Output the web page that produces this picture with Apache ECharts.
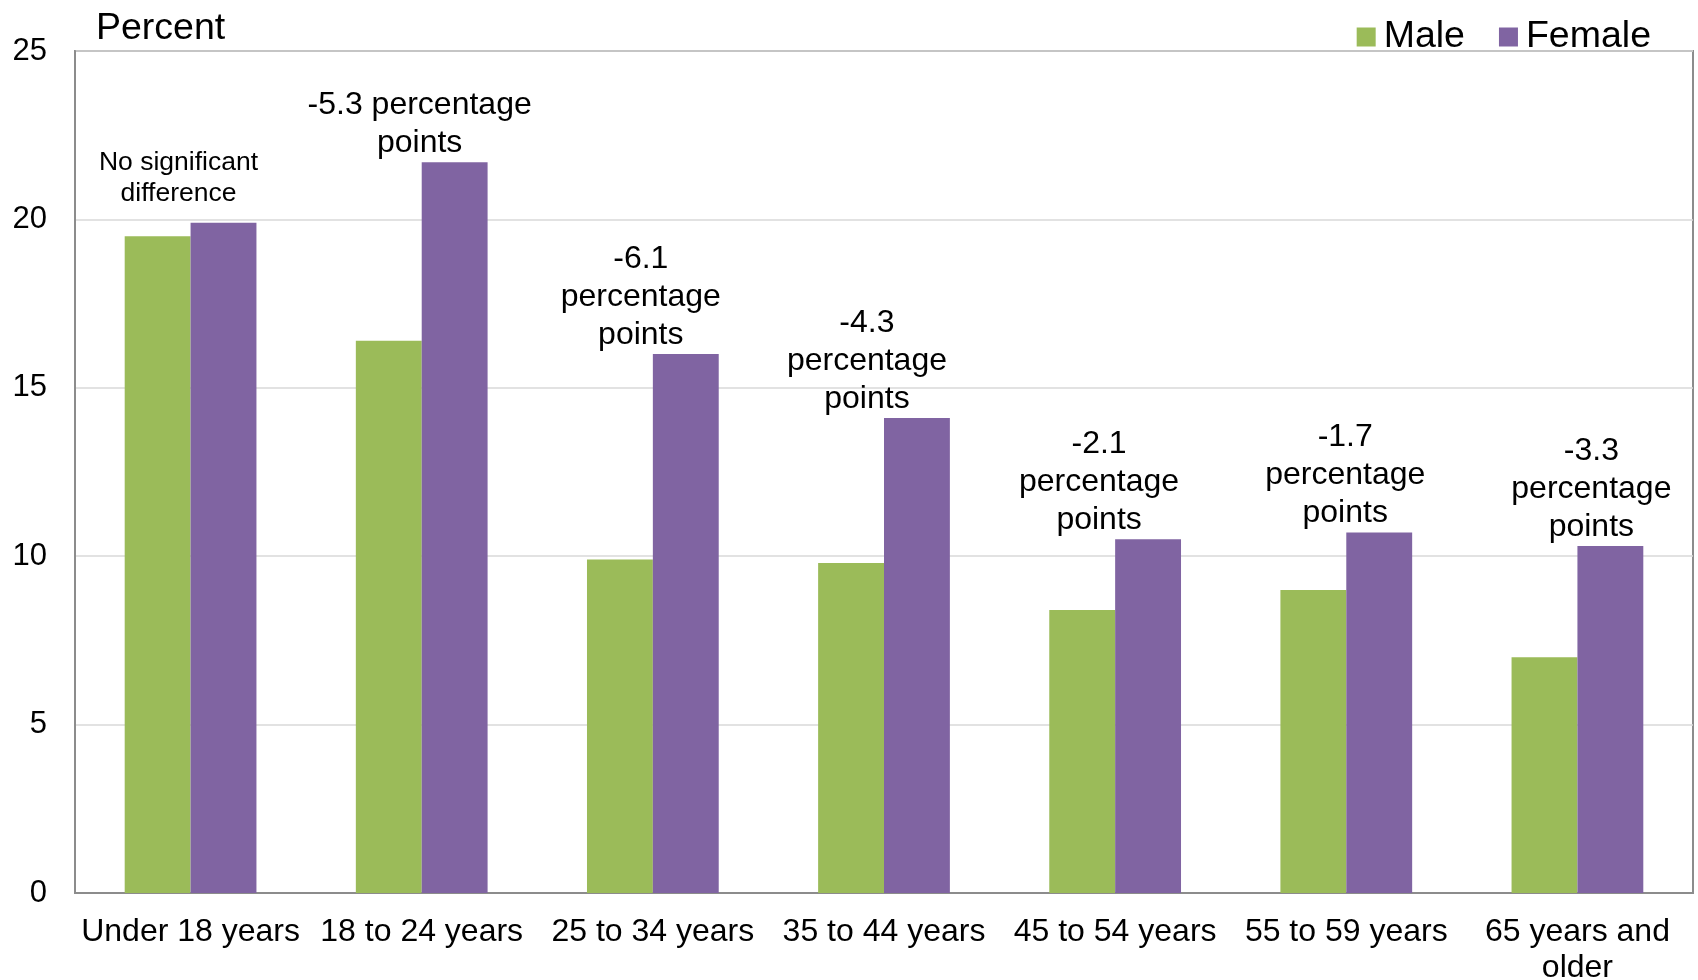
<!DOCTYPE html>
<html>
<head>
<meta charset="utf-8">
<title>Percent by age group and sex</title>
<script src="https://cdn.jsdelivr.net/npm/echarts@6/dist/echarts.min.js"></script>
<style>
  html, body { margin: 0; padding: 0; background: #ffffff; }
  #chart { width: 1698px; height: 980px; }
</style>
</head>
<body>
<div id="chart"></div>
<script>
// Age groups on the category axis
const categories = [
  'Under 18 years', '18 to 24 years', '25 to 34 years', '35 to 44 years',
  '45 to 54 years', '55 to 59 years', '65 years and\nolder'
];
// Percent of each sex in each age group
const male = [19.5, 16.4, 9.9, 9.8, 8.4, 9.0, 7.0];
const female = [19.9, 21.7, 16.0, 14.1, 10.5, 10.7, 10.3];
// Whether the male/female gap is statistically significant
const significant = [false, true, true, true, true, true, true];
// Value axis ticks
const yTicks = { min: 0, max: 25, step: 5 };

const FONT = 'Liberation Sans, Arial, sans-serif';
const GREEN = '#9bbb59';
const PURPLE = '#8064a2';
const AXIS = '#8c8c8c';

// Horizontal nudge of each note, relative to the female bar
const noteShift = [-45, -35, -45, -50, -49, -34, -19];
// Notes that keep the gap and "percentage" on one line
const noteWide = [false, true, false, false, false, false, false];

function noteText(i) {
  if (!significant[i]) return 'No significant\ndifference';
  const gap = (male[i] - female[i]).toFixed(1);
  return gap + (noteWide[i] ? ' ' : '\n') + 'percentage\npoints';
}

const femaleItems = female.map(function (v, i) {
  const sig = significant[i];
  return {
    value: v,
    label: {
      show: true,
      position: 'top',
      distance: sig ? 0 : 14,
      align: 'center',
      formatter: noteText(i),
      fontFamily: FONT,
      fontSize: sig ? 32 : 26.5,
      lineHeight: sig ? 38 : 31,
      color: '#000'
    }
  };
});

const chart = echarts.init(document.getElementById('chart'), null, { renderer: 'canvas' });

chart.setOption({
  animation: false,
  backgroundColor: '#ffffff',
  title: {
    text: 'Percent',
    left: 91,
    top: 5,
    textStyle: { fontFamily: FONT, fontSize: 37.5, fontWeight: 'normal', color: '#000' }
  },
  legend: {
    right: 42,
    top: 13,
    icon: 'rect',
    itemWidth: 19,
    itemHeight: 19,
    itemGap: 34,
    textStyle: { fontFamily: FONT, fontSize: 37.5, color: '#000', padding: [0, 0, 0, 3] },
    data: ['Male', 'Female']
  },
  grid: {
    left: 75,
    right: 5,
    top: 51,
    bottom: 87,
    show: true,
    borderColor: AXIS,
    borderWidth: 2,
    containLabel: false,
    outerBoundsMode: 'none'
  },
  xAxis: {
    type: 'category',
    data: categories,
    axisTick: { show: false },
    axisLine: { show: true, lineStyle: { color: AXIS, width: 2 } },
    axisLabel: {
      interval: 0,
      margin: 21,
      fontFamily: FONT,
      fontSize: 32,
      lineHeight: 36,
      color: '#000'
    }
  },
  yAxis: {
    type: 'value',
    min: yTicks.min,
    max: yTicks.max,
    interval: yTicks.step,
    axisTick: { show: false },
    axisLine: { show: true, lineStyle: { color: AXIS, width: 2 } },
    splitLine: { show: true, lineStyle: { color: '#d9d9d9', width: 1.5 } },
    axisLabel: {
      margin: 28,
      fontFamily: FONT,
      fontSize: 31,
      color: '#000'
    }
  },
  series: [
    {
      name: 'Male',
      type: 'bar',
      data: male,
      barGap: '0%',
      barCategoryGap: '43%',
      itemStyle: { color: GREEN },
      z: 2
    },
    {
      name: 'Female',
      type: 'bar',
      data: femaleItems,
      barGap: '0%',
      barCategoryGap: '43%',
      itemStyle: { color: PURPLE },
      labelLayout: function (params) {
        return { dx: noteShift[params.dataIndex], hideOverlap: false };
      },
      z: 2
    }
  ]
});
</script>
</body>
</html>
